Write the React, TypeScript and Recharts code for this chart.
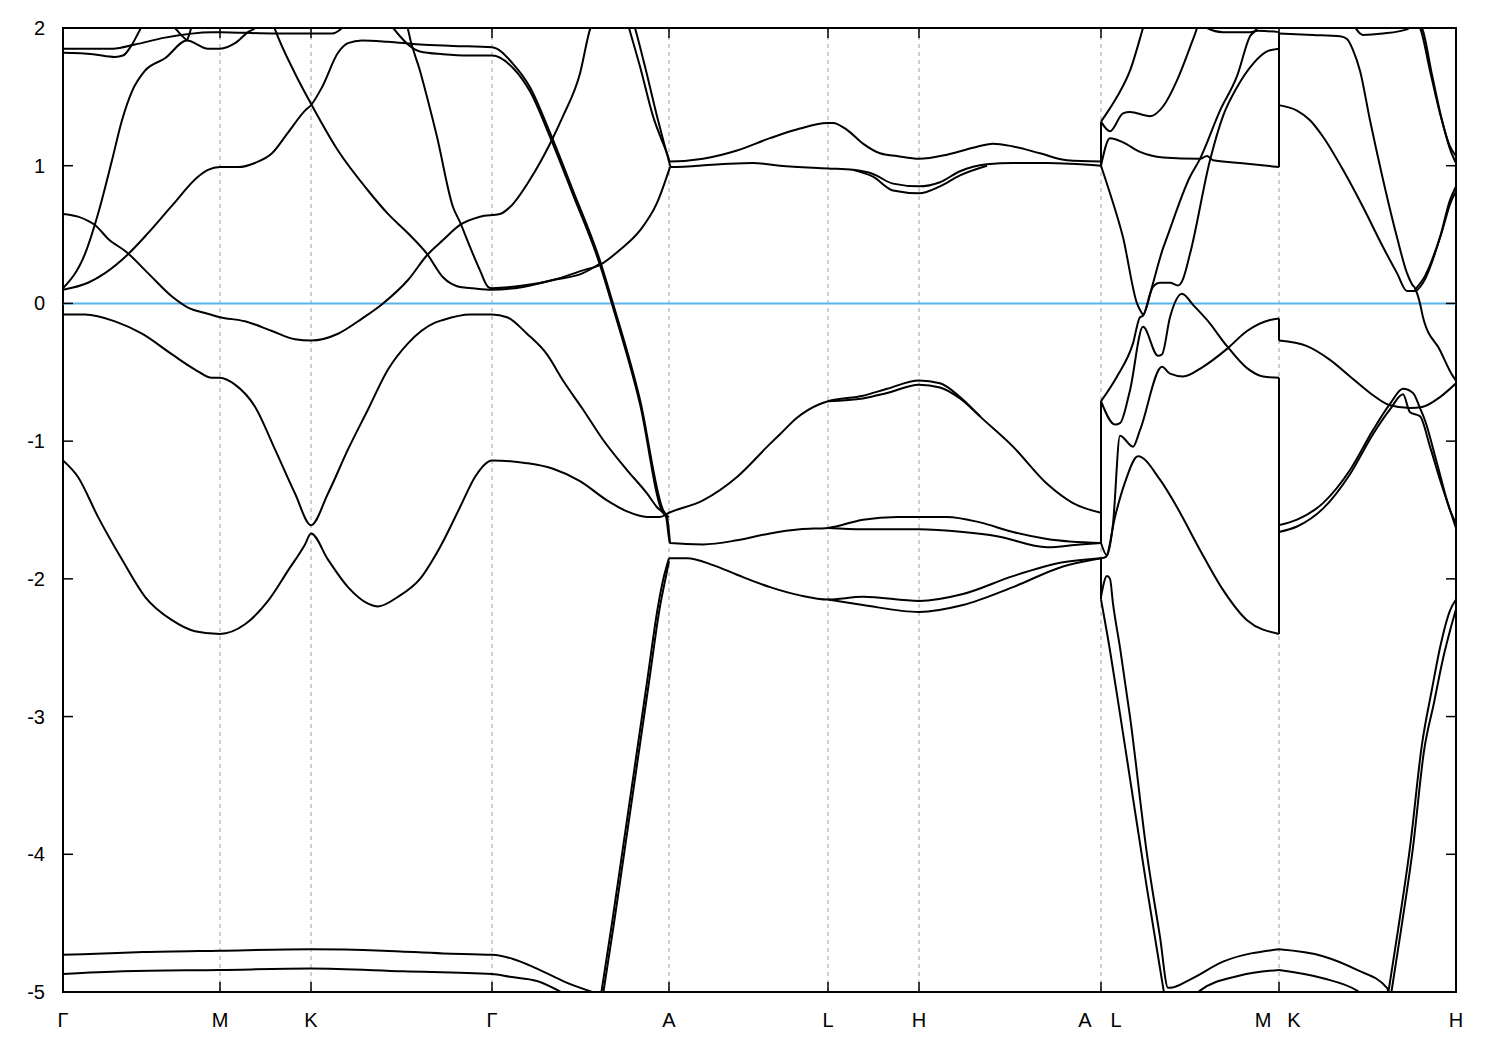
import { LineChart, Line, XAxis, YAxis, CartesianGrid, ReferenceLine, ReferenceArea } from "recharts";

type Pt = [number, number];

// k-path positions of the high-symmetry points and their labels
const kTicks = [0, 157, 248, 429, 606, 765, 856, 1038, 1216, 1393];
const kLabels = ["Γ", "M", "K", "Γ", "A", "L", "H", "A|L", "M|K", "H"];
const eTicks = [-5, -4, -3, -2, -1, 0, 1, 2];

// ---- Γ-M-K-Γ-A-L-H-A ----
const bandLow1: Pt[] = [[0, -1.14], [15, -1.26], [35, -1.55], [59, -1.86], [82, -2.13], [109, -2.3], [132, -2.38], [157, -2.4], [182, -2.33], [205, -2.16], [225, -1.94], [242, -1.75], [248, -1.67], [265, -1.86], [285, -2.06], [305, -2.18], [315, -2.2], [335, -2.13], [357, -2.0], [377, -1.77], [397, -1.48], [412, -1.26], [425, -1.15], [429, -1.14], [464, -1.16], [490, -1.2], [517, -1.29], [544, -1.43], [564, -1.51], [584, -1.55], [597, -1.55], [606, -1.52], [640, -1.43], [674, -1.26], [707, -1.02], [717, -0.95], [734, -0.83], [757, -0.73], [765, -0.71], [800, -0.67], [824, -0.62], [856, -0.56], [877, -0.58], [897, -0.68], [917, -0.82], [950, -1.04], [984, -1.31], [1010, -1.45], [1038, -1.52]];
const bandLow1b: Pt[] = [[765, -0.71], [800, -0.69], [824, -0.65], [856, -0.59], [877, -0.61], [897, -0.69], [917, -0.82]];
const bandVal: Pt[] = [[0, -0.08], [22, -0.08], [52, -0.13], [79, -0.22], [109, -0.37], [132, -0.48], [149, -0.54], [157, -0.54], [172, -0.59], [192, -0.75], [212, -1.06], [232, -1.38], [248, -1.61], [265, -1.38], [285, -1.06], [305, -0.77], [325, -0.48], [345, -0.29], [372, -0.14], [380, -0.12], [407, -0.08], [429, -0.08], [444, -0.1], [464, -0.22], [484, -0.37], [500, -0.56], [520, -0.77], [540, -0.99], [564, -1.21], [584, -1.38], [594, -1.48], [603, -1.55], [607, -1.74], [640, -1.75], [674, -1.72], [707, -1.67], [737, -1.64], [765, -1.63], [800, -1.57], [834, -1.55], [856, -1.55], [884, -1.55], [917, -1.59], [950, -1.66], [984, -1.71], [1038, -1.74]];
const bandValB: Pt[] = [[765, -1.63], [800, -1.64], [856, -1.64], [900, -1.66], [934, -1.69], [984, -1.77], [1017, -1.75], [1038, -1.74]];
const bandDeep: Pt[] = [[606, -1.85], [624, -1.85], [650, -1.9], [674, -1.97], [707, -2.06], [737, -2.12], [765, -2.15], [800, -2.13], [856, -2.16], [900, -2.11], [950, -1.98], [1000, -1.88], [1038, -1.85]];
const bandDeepB: Pt[] = [[765, -2.15], [800, -2.19], [856, -2.24], [900, -2.19], [950, -2.06], [1000, -1.91], [1038, -1.85]];
const steepLow1: Pt[] = [[538, -5.02], [549, -4.5], [560, -3.95], [572, -3.35], [584, -2.75], [595, -2.2], [601, -1.98], [606, -1.85]];
const steepLow2: Pt[] = [[540, -5.02], [551, -4.5], [562, -3.95], [574, -3.35], [586, -2.75], [597, -2.2], [603, -1.98], [606, -1.87]];
const bot1: Pt[] = [[0, -4.73], [40, -4.72], [80, -4.71], [157, -4.7], [248, -4.69], [320, -4.7], [380, -4.72], [429, -4.73], [450, -4.76], [474, -4.83], [503, -4.93], [538, -5.02]];
const bot2: Pt[] = [[0, -4.87], [60, -4.85], [157, -4.84], [248, -4.83], [340, -4.85], [429, -4.87], [447, -4.89], [474, -4.92], [503, -5.02]];
const bandA: Pt[] = [[0, 0.11], [22, 0.36], [35, 0.65], [49, 1.04], [59, 1.33], [69, 1.54], [82, 1.69], [102, 1.78], [124, 1.91], [145, 1.85], [157, 1.85], [172, 1.89], [185, 1.97], [192, 2.0], [198, 2.06]];
const bandA2: Pt[] = [[0, 0.1], [25, 0.15], [42, 0.22], [64, 0.35], [85, 0.51], [109, 0.71], [135, 0.92], [145, 0.97], [157, 0.99], [175, 0.99], [192, 1.02], [209, 1.09], [225, 1.24], [242, 1.4], [248, 1.44], [259, 1.57], [275, 1.82], [285, 1.89], [299, 1.91], [325, 1.9], [357, 1.88], [390, 1.87], [429, 1.86], [450, 1.74], [467, 1.57], [487, 1.24], [510, 0.82], [537, 0.31], [550, 0.0], [577, -0.7], [600, -1.5], [604, -1.55], [607, -1.74]];
const bandT2: Pt[] = [[327, 2.03], [337, 1.94], [345, 1.88], [357, 1.83], [380, 1.81], [405, 1.8], [429, 1.8], [450, 1.71], [467, 1.54], [487, 1.21], [510, 0.79], [537, 0.28], [550, -0.03], [577, -0.73], [600, -1.52], [606, -1.55]];
const bandB1: Pt[] = [[0, 1.85], [30, 1.85], [50, 1.85], [72, 1.88], [102, 1.93], [149, 1.97], [157, 1.97], [209, 1.96], [248, 1.96], [269, 1.96], [279, 2.0], [285, 2.05]];
const bandB2: Pt[] = [[0, 1.82], [30, 1.81], [52, 1.79], [60, 1.8], [69, 1.88], [75, 1.96], [80, 2.03]];
const loopTop1: Pt[] = [[108, 2.03], [112, 2.0], [118, 1.95], [124, 1.91]];
const loopTop2: Pt[] = [[124, 1.91], [127, 1.97], [129, 2.03]];
const bandK: Pt[] = [[210, 2.03], [212, 1.99], [232, 1.67], [248, 1.45], [275, 1.11], [305, 0.82], [325, 0.65], [345, 0.51], [364, 0.36], [380, 0.19], [397, 0.12], [410, 0.11], [429, 0.1], [460, 0.12], [490, 0.17], [520, 0.22], [537, 0.29]];
const bandC: Pt[] = [[0, 0.65], [15, 0.63], [25, 0.6], [32, 0.57], [45, 0.47], [64, 0.37], [85, 0.22], [109, 0.05], [125, -0.03], [142, -0.07], [157, -0.1], [182, -0.13], [209, -0.2], [232, -0.26], [248, -0.27], [275, -0.22], [299, -0.11], [320, 0.0], [345, 0.17], [364, 0.35], [380, 0.46], [397, 0.57], [417, 0.63], [437, 0.65], [447, 0.7], [467, 0.9], [487, 1.16], [500, 1.36], [517, 1.67], [527, 1.99], [530, 2.05]];
const bandSteepTop: Pt[] = [[344, 2.03], [345, 1.99], [357, 1.69], [374, 1.21], [390, 0.7], [397, 0.59], [407, 0.41], [417, 0.24], [425, 0.12], [429, 0.11], [460, 0.13], [490, 0.17], [520, 0.24], [537, 0.28], [557, 0.39], [577, 0.53], [594, 0.73], [607, 0.99]];
const bandTopA: Pt[] = [[564, 2.05], [566, 2.0], [577, 1.72], [590, 1.36], [604, 1.09], [607, 1.03], [640, 1.05], [674, 1.11], [707, 1.2], [737, 1.27], [764, 1.31], [770, 1.31], [784, 1.26], [800, 1.16], [817, 1.09], [834, 1.07], [856, 1.05], [884, 1.08], [910, 1.13], [930, 1.16], [950, 1.14], [977, 1.09], [1004, 1.04], [1038, 1.03]];
const bandTopB: Pt[] = [[570, 2.05], [572, 2.0], [582, 1.72], [594, 1.36], [605, 1.06], [608, 0.99], [657, 1.01], [690, 1.02], [717, 1.0], [765, 0.98], [790, 0.97], [810, 0.94], [830, 0.87], [856, 0.85], [877, 0.88], [897, 0.96], [924, 1.01], [950, 1.02], [984, 1.02], [1038, 1.0]];
const bandTopBb: Pt[] = [[790, 0.97], [810, 0.92], [830, 0.82], [856, 0.8], [877, 0.85], [897, 0.93], [924, 1.0]];

// ---- L-M ----
const segL1: Pt[] = [[1038, 1.32], [1054, 1.5], [1067, 1.69], [1080, 2.0], [1082, 2.05]];
const segL2: Pt[] = [[1038, 1.32], [1047, 1.25], [1060, 1.38], [1067, 1.39], [1087, 1.36], [1100, 1.43], [1114, 1.62], [1127, 1.86], [1134, 2.0], [1136, 2.05]];
const segL3: Pt[] = [[1038, 1.0], [1047, 1.2], [1060, 1.17], [1077, 1.1], [1100, 1.06], [1137, 1.05], [1144, 1.07], [1150, 1.04], [1177, 1.02], [1216, 0.99]];
const segL4: Pt[] = [[1038, -0.71], [1054, -0.53], [1070, -0.29], [1077, -0.1], [1080, -0.09], [1087, 0.07], [1100, 0.4], [1104, 0.48], [1127, 0.92], [1137, 1.05], [1157, 1.4], [1174, 1.65], [1187, 1.94], [1194, 2.0], [1196, 2.05]];
const segL5: Pt[] = [[1038, 1.0], [1047, 0.8], [1060, 0.48], [1074, 0.0], [1078, -0.06], [1080, -0.08], [1090, 0.12], [1097, 0.15], [1107, 0.15], [1115, 0.13], [1119, 0.16], [1127, 0.36], [1147, 1.04], [1160, 1.36], [1174, 1.57], [1190, 1.74], [1204, 1.83], [1216, 1.85]];
const segLTop: Pt[] = [[1140, 2.03], [1144, 2.0], [1160, 1.97], [1187, 1.97], [1195, 1.98], [1216, 1.97]];
const segLa: Pt[] = [[1038, -0.71], [1052, -0.88], [1057, -0.87], [1067, -0.63], [1080, -0.17], [1095, -0.38], [1099, -0.37], [1107, -0.1], [1119, 0.07], [1130, -0.01], [1144, -0.12], [1164, -0.31], [1184, -0.47], [1200, -0.53], [1216, -0.54]];
const segLb: Pt[] = [[1038, -1.74], [1044, -1.83], [1050, -1.6], [1057, -0.96], [1070, -1.04], [1077, -0.92], [1099, -0.46], [1107, -0.51], [1120, -0.53], [1140, -0.46], [1164, -0.33], [1184, -0.2], [1207, -0.12], [1216, -0.11]];
const segLc: Pt[] = [[1038, -1.85], [1043, -1.84], [1052, -1.55], [1062, -1.3], [1075, -1.11], [1097, -1.28], [1114, -1.48], [1137, -1.79], [1160, -2.08], [1184, -2.3], [1216, -2.4]];
const segLs1: Pt[] = [[1038, -2.13], [1044, -1.98], [1047, -2.0], [1050, -2.18], [1057, -2.5], [1067, -3.0], [1084, -4.0], [1097, -4.6], [1105, -4.97], [1107, -4.97], [1127, -4.91], [1160, -4.78], [1216, -4.69]];
const segLs2: Pt[] = [[1038, -2.15], [1047, -2.52], [1057, -2.98], [1067, -3.45], [1084, -4.25], [1102, -5.05]];
const segLbot: Pt[] = [[1134, -5.02], [1137, -4.99], [1177, -4.88], [1216, -4.84]];

// ---- K-H ----
const segKTop: Pt[] = [[1216, 1.96], [1250, 1.95], [1277, 1.94], [1284, 1.92], [1290, 1.84], [1297, 1.69], [1307, 1.33], [1320, 0.9], [1334, 0.48], [1344, 0.22], [1349, 0.14], [1352, 0.11], [1357, 0.0], [1360, -0.1], [1377, -0.34], [1390, -0.53], [1393, -0.56]];
const segK144: Pt[] = [[1216, 1.44], [1234, 1.4], [1247, 1.33], [1260, 1.21], [1280, 0.97], [1300, 0.7], [1320, 0.41], [1334, 0.22], [1344, 0.09], [1352, 0.09], [1360, 0.15], [1377, 0.48], [1387, 0.75], [1393, 0.85]];
const segK144b: Pt[] = [[1352, 0.1], [1362, 0.2], [1378, 0.5], [1388, 0.74], [1393, 0.81]];
const segKDip: Pt[] = [[1290, 2.03], [1300, 1.95], [1320, 1.96], [1344, 1.99], [1350, 2.03]];
const segKSteep1: Pt[] = [[1354, 2.03], [1357, 2.0], [1367, 1.69], [1377, 1.38], [1387, 1.14], [1393, 1.07]];
const segKSteep2: Pt[] = [[1356, 2.03], [1359, 2.0], [1369, 1.66], [1379, 1.33], [1388, 1.1], [1393, 1.02]];
const segK027: Pt[] = [[1216, -0.27], [1244, -0.31], [1267, -0.41], [1287, -0.53], [1307, -0.65], [1327, -0.74], [1347, -0.76], [1360, -0.75], [1377, -0.68], [1393, -0.58]];
const segK161: Pt[] = [[1216, -1.61], [1234, -1.57], [1260, -1.45], [1287, -1.21], [1310, -0.92], [1327, -0.73], [1340, -0.62], [1350, -0.65], [1357, -0.76], [1362, -0.85], [1374, -1.16], [1387, -1.5], [1393, -1.6]];
const segK166: Pt[] = [[1216, -1.66], [1234, -1.62], [1260, -1.49], [1287, -1.24], [1310, -0.95], [1327, -0.77], [1340, -0.66], [1347, -0.79], [1357, -0.82], [1367, -1.04], [1377, -1.28], [1387, -1.5], [1393, -1.63]];
const segKr1: Pt[] = [[1325, -5.02], [1335, -4.55], [1347, -3.95], [1359, -3.2], [1369, -2.8], [1377, -2.5], [1387, -2.23], [1393, -2.15]];
const segKr2: Pt[] = [[1328, -5.02], [1338, -4.55], [1350, -3.95], [1361, -3.25], [1371, -2.9], [1380, -2.58], [1388, -2.35], [1393, -2.22]];
const segKbot1: Pt[] = [[1216, -4.69], [1260, -4.74], [1294, -4.84], [1324, -4.97], [1326, -5.02]];
const segKbot2: Pt[] = [[1216, -4.84], [1260, -4.9], [1294, -4.99], [1300, -5.02]];

// jumps where the path is discontinuous (A|L and M|K)
const jumpAL1: Pt[] = [[1038, 1.0], [1038, 1.32]];
const jumpAL2: Pt[] = [[1038, -0.71], [1038, -1.74]];
const jumpAL3: Pt[] = [[1038, -1.85], [1038, -2.15]];
const jumpMK1: Pt[] = [[1216, 0.99], [1216, 1.97]];
const jumpMK2: Pt[] = [[1216, -0.11], [1216, -0.27]];
const jumpMK3: Pt[] = [[1216, -0.54], [1216, -2.4]];

const bands = [
  bandLow1, bandLow1b, bandVal, bandValB, bandDeep, bandDeepB, steepLow1, steepLow2, bot1, bot2,
  bandA, bandA2, bandT2, bandB1, bandB2, loopTop1, loopTop2, bandK, bandC, bandSteepTop,
  bandTopA, bandTopB, bandTopBb,
  segL1, segL2, segL3, segL4, segL5, segLTop, segLa, segLb, segLc, segLs1, segLs2, segLbot,
  segKTop, segK144, segK144b, segKDip, segKSteep1, segKSteep2, segK027, segK161, segK166,
  segKr1, segKr2, segKbot1, segKbot2,
];
const jumps = [jumpAL1, jumpAL2, jumpAL3, jumpMK1, jumpMK2, jumpMK3];

const W = 1484;
const H = 1034;
const PLOT_W = 1393;
const PLOT_H = 964;
const FONT = "'Liberation Sans', Arial, Helvetica, sans-serif";

function KTick(props: any) {
  const { x, y, payload } = props;
  const i = kTicks.indexOf(payload.value);
  const parts = (kLabels[i] ?? "").split("|");
  return (
    <g>
      <line x1={x} x2={x} y1={y} y2={y - 10} stroke="#000" strokeWidth={1.5} />
      <line x1={x} x2={x} y1={y - PLOT_H} y2={y - PLOT_H + 10} stroke="#000" strokeWidth={1.5} />
      {parts.length === 2 ? (
        <>
          <text x={x - 16} y={y + 35} textAnchor="middle" fontSize={20} fontFamily={FONT} fill="#000">{parts[0]}</text>
          <text x={x + 15} y={y + 35} textAnchor="middle" fontSize={20} fontFamily={FONT} fill="#000">{parts[1]}</text>
        </>
      ) : (
        <text x={x} y={y + 35} textAnchor="middle" fontSize={20} fontFamily={FONT} fill="#000">{parts[0]}</text>
      )}
    </g>
  );
}

function ETick(props: any) {
  const { x, y, payload } = props;
  return (
    <g>
      <line x1={x} x2={x + 10} y1={y} y2={y} stroke="#000" strokeWidth={1.5} />
      <line x1={x + PLOT_W - 10} x2={x + PLOT_W} y1={y} y2={y} stroke="#000" strokeWidth={1.5} />
      <text x={x - 18} y={y + 7} textAnchor="end" fontSize={20} fontFamily={FONT} fill="#000">{payload.value}</text>
    </g>
  );
}

export default function App() {
  return (
    <div style={{ width: W, height: H, background: "#fff" }}>
      <LineChart width={W} height={H} margin={{ top: 20, right: 36, bottom: 0, left: 0 }}>
        <CartesianGrid horizontal={false} stroke="#a0a0a0" strokeDasharray="4 4" />
        <XAxis
          type="number"
          dataKey="k"
          domain={[0, 1393]}
          ticks={kTicks}
          interval={0}
          allowDataOverflow
          height={50}
          tickSize={0}
          tickMargin={0}
          tickLine={false}
          axisLine={false}
          tick={<KTick />}
        />
        <YAxis
          type="number"
          domain={[-5, 2]}
          ticks={eTicks}
          interval={0}
          allowDataOverflow
          width={55}
          tickSize={0}
          tickMargin={0}
          tickLine={false}
          axisLine={false}
          tick={<ETick />}
        />
        <ReferenceLine y={0} stroke="#56b4e9" strokeWidth={2} />
        {bands.map((b, i) => (
          <Line
            key={"b" + i}
            data={b.map(([k, e]) => ({ k, e }))}
            dataKey="e"
            type="monotone"
            stroke="#000"
            strokeWidth={2}
            dot={false}
            activeDot={false}
            isAnimationActive={false}
          />
        ))}
        {jumps.map((b, i) => (
          <Line
            key={"j" + i}
            data={b.map(([k, e]) => ({ k, e }))}
            dataKey="e"
            type="linear"
            stroke="#000"
            strokeWidth={2}
            dot={false}
            activeDot={false}
            isAnimationActive={false}
          />
        ))}
        <ReferenceArea x1={0} x2={1393} y1={-5} y2={2} fill="none" stroke="#000" strokeWidth={2} ifOverflow="visible" />
      </LineChart>
    </div>
  );
}
